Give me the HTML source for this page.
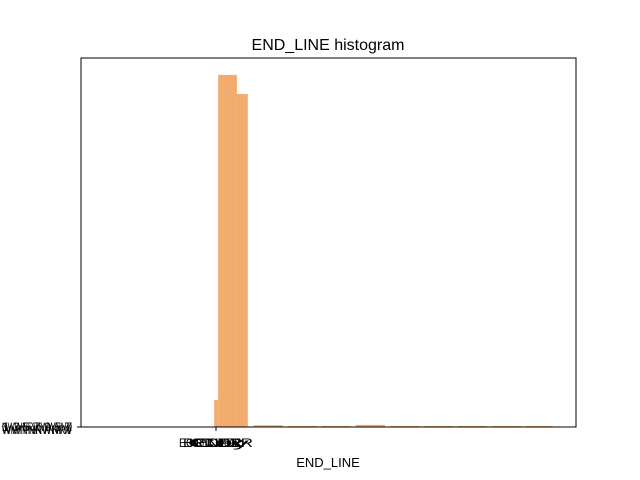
<!DOCTYPE html>
<html><head><meta charset="utf-8"><style>
body{margin:0;background:#fff;}
svg{display:block;font-family:"Liberation Sans","DejaVu Sans",sans-serif;}
</style></head><body>
<svg width="640" height="480">
<text x="328" y="50" font-size="16" text-anchor="middle">END_LINE histogram</text>
<g id="bars"></g>
<rect x="81" y="58" width="495" height="369" fill="none" stroke="#000" stroke-width="1"/>
<g id="xt"></g>
<g id="yt"></g>
<text x="328" y="467" font-size="13" text-anchor="middle">END_LINE</text>
</svg>
<script>
const binStarts=[26.9,27.7,31.5,34.9,41.8,48.6,55.5,62.4,69.3,76.2,83.0,89.9];
const binEnds=[27.7,31.5,33.7,40.8,47.7,54.5,61.4,68.3,75.2,82.0,88.9,95.3];
const counts=[7.7,100,94.6,0.5,0.3,0.3,0.6,0.3,0.3,0.3,0.3,0.3];
const xTickLabels=["ECONOMIC","BRIDGE","CR","Cay","ENDLR"];
const yTickLabels=["NWWNRWWWNNN","WNTPHRVNWW","1 3 5 7 9 5 7","WWNNNWNRV"];
const NS="http://www.w3.org/2000/svg";
const X0=81,X1=576,Y0=427,Y1=58,XMAX=100,YMAX=104.8;
const xs=v=>X0+v/XMAX*(X1-X0);
const ys=v=>Y0-v/YMAX*(Y0-Y1);
const g=document.getElementById('bars');
for(let i=0;i<counts.length;i++){
 const r=document.createElementNS(NS,'rect');
 
 
 const h=Math.max(1,Y0-ys(counts[i]));
 r.setAttribute('x',xs(binStarts[i]));r.setAttribute('width',xs(binEnds[i])-xs(binStarts[i]));
 r.setAttribute('y',Y0-h);r.setAttribute('height',h);r.setAttribute('fill','#f2ad6e');
 g.appendChild(r);
}
const xt=document.getElementById('xt');
const tl=document.createElementNS(NS,'line');


tl.setAttribute('x1',216);tl.setAttribute('x2',216);tl.setAttribute('y1',427);tl.setAttribute('y2',431);tl.setAttribute('stroke','#000');
xt.appendChild(tl);
xTickLabels.forEach((s,i)=>{
 const t=document.createElementNS(NS,'text');
 
 
 t.setAttribute('x',216+(i-2)*4);t.setAttribute('y',447);t.setAttribute('font-size','12');t.setAttribute('text-anchor','middle');
 t.setAttribute('textLength','58');t.setAttribute('lengthAdjust','spacingAndGlyphs');
 t.textContent=s;xt.appendChild(t);
});
const yt=document.getElementById('yt');
const yl=document.createElementNS(NS,'line');


yl.setAttribute('x1',77);yl.setAttribute('x2',81);yl.setAttribute('y1',427);yl.setAttribute('y2',427);yl.setAttribute('stroke','#000');
yt.appendChild(yl);
yTickLabels.forEach((s,i)=>{
 const t=document.createElementNS(NS,'text');
 
 
 t.setAttribute('x',72);t.setAttribute('y',431+(i%2)*3);t.setAttribute('font-size','12');t.setAttribute('text-anchor','end');
 t.setAttribute('textLength','70');t.setAttribute('lengthAdjust','spacingAndGlyphs');
 t.textContent=s;yt.appendChild(t);
});
</script>
</body></html>
